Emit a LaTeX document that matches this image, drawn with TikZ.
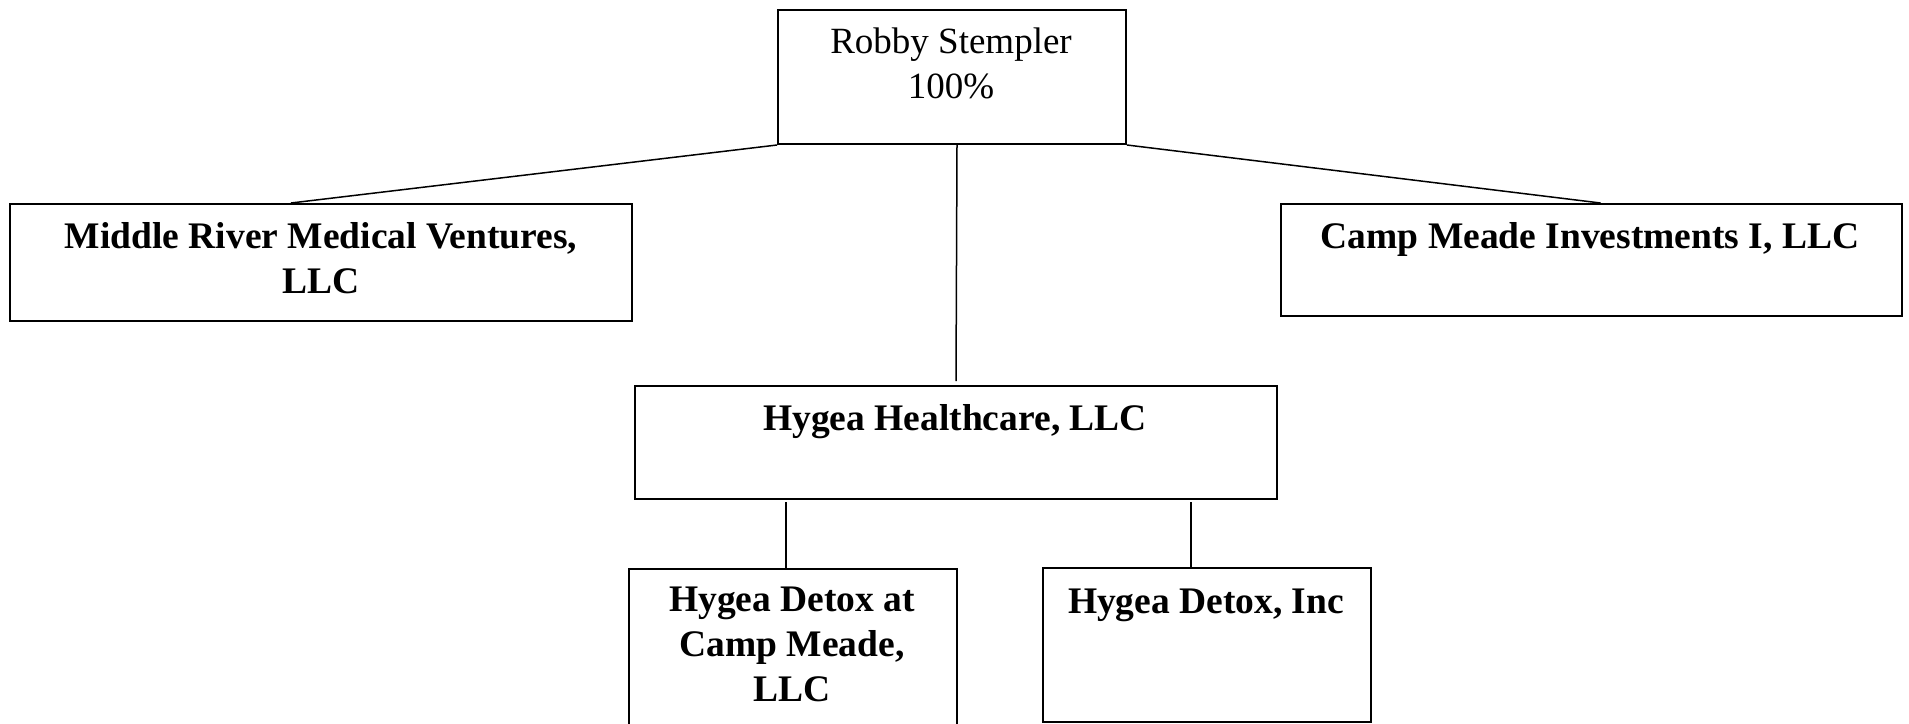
\documentclass[tikz,border=0pt]{standalone}
\usepackage{fontspec}
\setmainfont{Liberation Serif}
\begin{document}
\begin{tikzpicture}[x=1pt,y=-1pt,
  box/.style={draw, line width=2pt, inner sep=0pt, anchor=north west},
  lbl/.style={anchor=base, align=center, inner sep=0pt, font=\fontsize{37.5}{45}\selectfont\bfseries},
  rlbl/.style={anchor=base, align=center, inner sep=0pt, font=\fontsize{37}{45}\selectfont},
  conn/.style={line width=1.5pt}]
\clip (0,0) rectangle (1909,723);
\fill[white] (0,0) rectangle (1909,723);
% boxes
\node[box, minimum width=348pt, minimum height=134pt] (top) at (777,9) {};
\node[box, minimum width=622pt, minimum height=117pt] (mr) at (9,203) {};
\node[box, minimum width=621pt, minimum height=112pt] (cm) at (1280,203) {};
\node[box, minimum width=642pt, minimum height=113pt] (hh) at (634,385) {};
\node[box, minimum width=328pt, minimum height=170pt] (dcm) at (628,568) {};
\node[box, minimum width=328pt, minimum height=154pt] (di) at (1042,567) {};
% labels (base anchor = baseline of last line)
\node[rlbl] (ttop) at (951,98) {Robby Stempler\\100\%};
\node[lbl] (tmr) at (321,293) {Middle River Medical Ventures,\\LLC};
\node[lbl] (tcm) at (1590,248) {Camp Meade Investments I, LLC};
\node[lbl] (thh) at (955,430) {Hygea Healthcare, LLC};
\node[lbl] (tdcm) at (792,701) {Hygea Detox at\\Camp Meade,\\LLC};
\node[lbl] (tdi) at (1206,613) {Hygea Detox, Inc};
% connectors
\draw[conn] (top.south west) -- ([xshift=-30pt]mr.north);
\draw[conn] (top.south east) -- ([xshift=9pt]cm.north);
\draw[conn] ([xshift=5pt]top.south) -- ([yshift=4pt]hh.north);
\draw[conn] ([xshift=-170pt,yshift=-2pt]hh.south) -- ([xshift=-7pt]dcm.north);
\draw[conn] ([xshift=235pt,yshift=-2pt]hh.south) -- ([xshift=-16pt]di.north);
\end{tikzpicture}
\end{document}
